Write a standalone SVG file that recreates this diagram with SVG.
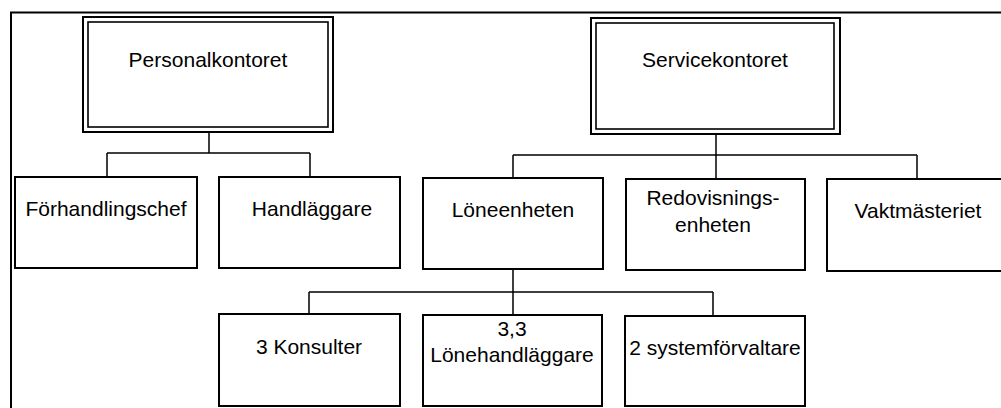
<svg xmlns="http://www.w3.org/2000/svg" width="1001" height="408" viewBox="0 0 1001 408">
<style>
.box{fill:#fff;stroke:#000;stroke-width:2}
.inner{fill:none;stroke:#000;stroke-width:1.6}
.conn{fill:none;stroke:#000;stroke-width:1.5}
.frame{fill:none;stroke:#000;stroke-width:2}
text{font-family:"Liberation Sans",Arial,sans-serif;font-size:21px;fill:#000;text-anchor:middle}
</style>
<rect width="1001" height="408" fill="#fff"/>
<path class="frame" d="M11,420 V12.5 H1010"/>
<g id="connectors">
<path class="conn" d="M209,132 V153 M107,153 H310 M107,153 V177 M310,153 V177"/>
<path class="conn" d="M716,134 V155 M513,155 H917 M513,155 V179 M716,155 V179 M917,155 V179"/>
<path class="conn" d="M513,269 V292 M309,292 H713 M309,292 V314 M513,292 V315 M713,292 V316"/>
</g>
<g id="personalkontoret">
<rect class="box" x="83" y="17" width="250" height="115"/>
<rect class="inner" x="88" y="22" width="240" height="105"/>
<text x="208" y="67">Personalkontoret</text>
</g>
<g id="servicekontoret">
<rect class="box" x="591" y="18" width="249" height="116"/>
<rect class="inner" x="596" y="23" width="238" height="106"/>
<text x="715" y="67">Servicekontoret</text>
</g>
<g id="forhandlingschef">
<rect class="box" x="15" y="177" width="182" height="91"/>
<text x="106" y="216">Förhandlingschef</text>
</g>
<g id="handlaggare">
<rect class="box" x="219" y="177" width="181" height="91"/>
<text x="312" y="216">Handläggare</text>
</g>
<g id="loneenheten">
<rect class="box" x="423" y="178" width="180" height="91"/>
<text x="513" y="217">Löneenheten</text>
</g>
<g id="redovisningsenheten">
<rect class="box" x="626" y="179" width="179" height="91"/>
<text x="713" y="205">Redovisnings-</text>
<text x="713" y="232">enheten</text>
</g>
<g id="vaktmasteriet">
<rect class="box" x="827" y="179" width="180" height="92"/>
<text x="918" y="218">Vaktmästeriet</text>
</g>
<g id="konsulter">
<rect class="box" x="219" y="314" width="181" height="92"/>
<text x="309" y="354">3 Konsulter</text>
</g>
<g id="lonehandlaggare">
<rect class="box" x="423" y="315" width="179" height="91"/>
<text x="512" y="336">3,3</text>
<text x="512" y="362">Lönehandläggare</text>
</g>
<g id="systemforvaltare">
<rect class="box" x="625" y="316" width="180" height="90"/>
<text x="715" y="355">2 systemförvaltare</text>
</g>
</svg>
